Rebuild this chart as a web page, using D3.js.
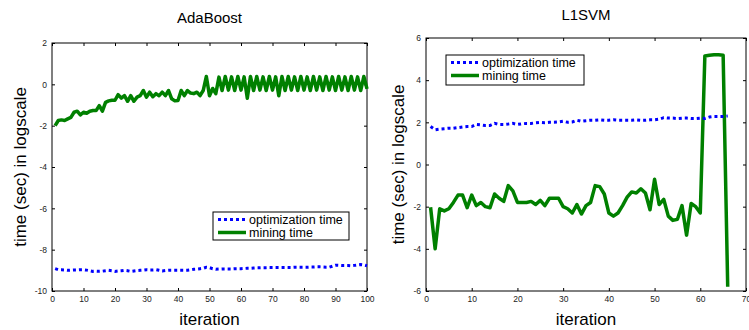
<!DOCTYPE html>
<html><head><meta charset="utf-8">
<script src="https://cdn.jsdelivr.net/npm/d3@7"></script>
<style>
body{margin:0;background:#fff;}
svg{display:block;font-family:"Liberation Sans",Arial,sans-serif;}
</style></head>
<body><svg id="c" width="749" height="330"></svg>
<script>
// ---------- DATA ----------
const adaOptim = [-8.92,-8.97,-8.97,-8.98,-9.0,-8.99,-8.98,-8.98,-8.97,-8.97,
 -8.99,-9.02,-9.05,-9.04,-9.05,-9.04,-9.02,-9.0,-9.02,-9.05,
 -9.03,-9.02,-9.0,-9.02,-9.05,-9.03,-9.01,-9.0,-8.99,-8.97,
 -8.98,-8.98,-8.97,-9.0,-9.03,-9.01,-9.0,-9.0,-9.0,-9.0,
 -9.0,-9.0,-9.0,-8.98,-8.95,-8.94,-8.92,-8.9,-8.85,-8.87,
 -8.92,-8.95,-8.94,-8.93,-8.93,-8.93,-8.93,-8.92,-8.92,-8.92,
 -8.91,-8.9,-8.9,-8.89,-8.88,-8.88,-8.87,-8.87,-8.86,-8.86,
 -8.86,-8.86,-8.86,-8.86,-8.86,-8.86,-8.85,-8.85,-8.85,-8.85,
 -8.85,-8.84,-8.84,-8.83,-8.83,-8.84,-8.85,-8.85,-8.8,-8.75,
 -8.76,-8.77,-8.77,-8.77,-8.78,-8.76,-8.74,-8.72,-8.74,-8.78];
const adaMining = [-2.0,-1.75,-1.72,-1.75,-1.67,-1.6,-1.35,-1.3,-1.48,-1.35,
 -1.4,-1.3,-1.27,-1.27,-1.03,-1.3,-0.87,-0.8,-0.77,-0.77,
 -0.5,-0.67,-0.55,-0.82,-0.55,-0.82,-0.62,-0.55,-0.3,-0.62,
 -0.38,-0.6,-0.45,-0.55,-0.38,-0.55,-0.3,-0.7,-0.8,-0.78,
 -0.3,-0.55,-0.3,-0.42,-0.45,-0.38,-0.55,-0.3,0.38,-0.55,
 -0.2,-0.45,0.35,-0.3,0.38,-0.28,0.36,-0.3,0.38,-0.28,
 0.36,-0.67,0.38,-0.3,0.38,-0.28,0.36,-0.3,0.38,-0.28,
 0.36,-0.55,0.38,-0.3,0.38,-0.28,0.36,-0.3,0.38,-0.28,
 0.36,-0.3,0.38,-0.28,0.36,-0.3,0.38,-0.28,0.36,-0.3,
 0.38,-0.28,0.36,-0.3,0.38,-0.28,0.36,-0.3,0.38,-0.22];
const svmOptim = [1.8,1.65,1.68,1.7,1.72,1.72,1.75,1.78,1.8,1.8,
 1.9,1.88,1.85,1.85,1.95,1.9,1.9,1.92,1.95,1.9,
 1.93,1.95,1.95,1.98,2.0,1.98,2.0,2.0,2.02,2.05,
 2.0,2.02,2.1,2.05,2.08,2.1,2.1,2.12,2.1,2.1,
 2.12,2.1,2.1,2.1,2.1,2.12,2.1,2.1,2.12,2.12,
 2.15,2.22,2.2,2.2,2.18,2.2,2.2,2.18,2.18,2.2,
 2.18,2.25,2.28,2.28,2.28,2.3];
const svmMining = [-2.03,-4.0,-2.1,-2.2,-2.1,-1.8,-1.45,-1.45,-2.05,-1.45,
 -1.95,-1.8,-2.0,-2.05,-1.4,-1.6,-1.75,-1.0,-1.25,-1.8,
 -1.8,-1.8,-1.75,-1.9,-1.7,-1.95,-1.6,-1.6,-1.6,-2.0,
 -2.1,-2.3,-1.9,-2.35,-1.95,-1.8,-1.0,-1.05,-1.4,-2.3,
 -2.45,-2.3,-1.95,-1.55,-1.3,-1.35,-1.15,-1.35,-2.15,-0.7,
 -1.9,-1.65,-2.45,-2.65,-2.6,-1.95,-3.35,-1.85,-2.0,-2.3,
 5.15,5.18,5.2,5.2,5.18,-5.8];
const adaXTicks = [0,10,20,30,40,50,60,70,80,90,100];
const adaYTicks = [-10,-8,-6,-4,-2,0,2];
const svmXTicks = [0,10,20,30,40,50,60,70];
const svmYTicks = [-6,-4,-2,0,2,4,6];
const seriesNames = ["optimization time","mining time"];

// ---------- DRAW ----------
const svg = d3.select("#c");
const BLUE = "#0000ff", GREEN = "#008000";

function panel(cfg){
  const g = svg.append("g");
  const x = d3.scaleLinear().domain(cfg.xDom).range([cfg.left, cfg.right]);
  const y = d3.scaleLinear().domain(cfg.yDom).range([cfg.bottom, cfg.top]);
  const fmt = d => String(d);
  const axB = g.append("g").attr("transform",`translate(0,${cfg.bottom})`)
    .call(d3.axisBottom(x).tickValues(cfg.xTicks).tickSize(-3).tickPadding(5).tickFormat(fmt));
  const axL = g.append("g").attr("transform",`translate(${cfg.left},0)`)
    .call(d3.axisLeft(y).tickValues(cfg.yTicks).tickSize(-3).tickPadding(5).tickFormat(fmt));
  const axT = g.append("g").attr("transform",`translate(0,${cfg.top})`)
    .call(d3.axisTop(x).tickValues(cfg.xTicks).tickSize(-3).tickFormat(""));
  const axR = g.append("g").attr("transform",`translate(${cfg.right},0)`)
    .call(d3.axisRight(y).tickValues(cfg.yTicks).tickSize(-3).tickFormat(""));
  [axB,axL,axT,axR].forEach(a=>{
    a.select(".domain").remove();
    a.selectAll(".tick line").attr("stroke","#000");
    a.selectAll(".tick text").attr("fill","#222").style("font-size","8.5px")
      .style("font-family",'"Liberation Sans",Arial,sans-serif');
  });
  g.append("rect").attr("x",cfg.left).attr("y",cfg.top)
    .attr("width",cfg.right-cfg.left).attr("height",cfg.bottom-cfg.top)
    .attr("fill","none").attr("stroke","#000").attr("stroke-width",1);

  const line = d3.line().x((d,i)=>x(i+1)).y(d=>y(d));
  g.append("path").datum(cfg.mining).attr("d",line)
    .attr("fill","none").attr("stroke",GREEN).attr("stroke-width",3.5)
    .attr("stroke-linejoin","round");
  g.append("path").datum(cfg.optim).attr("d",line)
    .attr("fill","none").attr("stroke",BLUE).attr("stroke-width",3)
    .attr("stroke-dasharray","3,3");

  // title
  g.append("text").attr("x",(cfg.left+cfg.right)/2).attr("y",cfg.titleY)
    .attr("text-anchor","middle").style("font-size","15px").text(cfg.title);
  // x label
  g.append("text").attr("x",(cfg.left+cfg.right)/2).attr("y",325)
    .attr("text-anchor","middle").style("font-size","17px").text("iteration");
  // y label
  g.append("text").attr("transform",`translate(${cfg.ylabX},${(cfg.top+cfg.bottom)/2}) rotate(-90)`)
    .attr("text-anchor","middle").style("font-size","17px").text("time (sec) in logscale");

  // legend
  const L = cfg.legend;
  const lg = g.append("g");
  lg.append("rect").attr("x",L.x).attr("y",L.y).attr("width",L.w).attr("height",L.h)
    .attr("fill","#fff").attr("stroke","#000").attr("stroke-width",1);
  const styles = [{c:BLUE,w:3,d:"3,3"},{c:GREEN,w:3.5,d:null}];
  seriesNames.forEach((name,i)=>{
    const yy = L.y + 7.5 + i*13;
    lg.append("line").attr("x1",L.x+5).attr("x2",L.x+33).attr("y1",yy).attr("y2",yy)
      .attr("stroke",styles[i].c).attr("stroke-width",styles[i].w)
      .attr("stroke-dasharray",styles[i].d);
    lg.append("text").attr("x",L.x+36).attr("y",yy+4.3)
      .style("font-size","12.5px").text(name);
  });
}

panel({title:"AdaBoost", titleY:23, xDom:[0,100], yDom:[-10,2],
  left:52, right:367, top:43, bottom:291, xTicks:adaXTicks, yTicks:adaYTicks,
  optim:adaOptim, mining:adaMining, ylabX:26,
  legend:{x:213,y:212,w:136,h:28}});
panel({title:"L1SVM", titleY:20, xDom:[0,70], yDom:[-6,6],
  left:426, right:746, top:38, bottom:291, xTicks:svmXTicks, yTicks:svmYTicks,
  optim:svmOptim, mining:svmMining, ylabX:404,
  legend:{x:446,y:55,w:138,h:30}});
</script></body></html>
